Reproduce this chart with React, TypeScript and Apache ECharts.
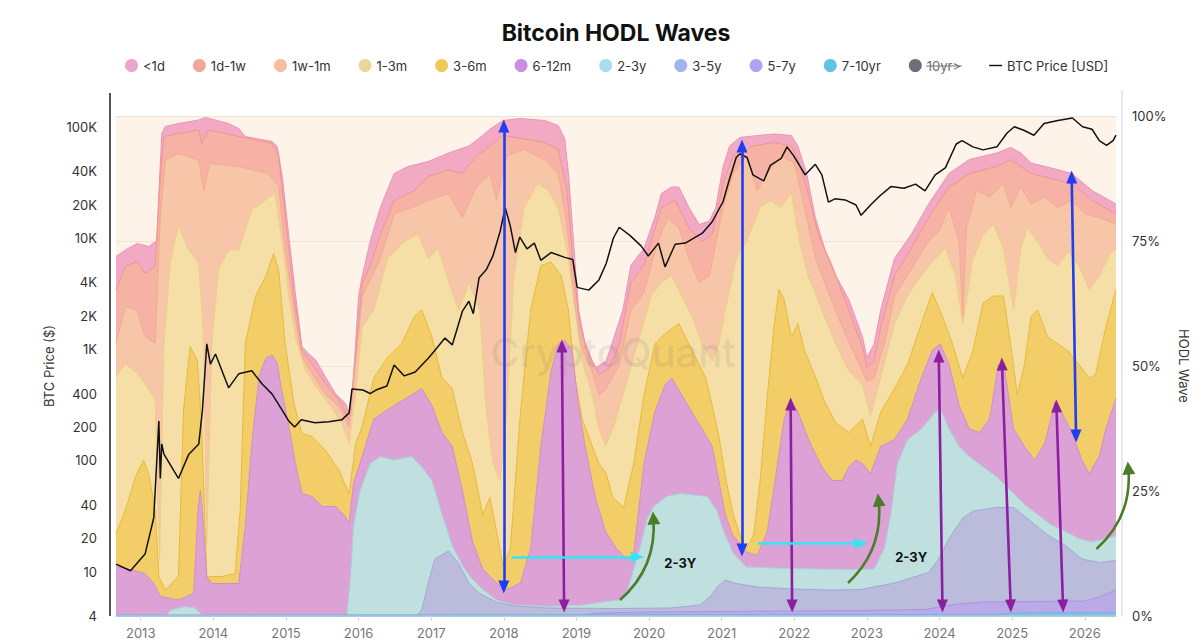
import React, { useEffect, useRef } from "react";
import * as echarts from "echarts";

// ---------------- DATA ----------------
// x values are decimal years; HODL values are the cumulative share (%) of supply
// at the top edge of each band (bands are stacked oldest at the bottom).
const YEAR_TICKS = [2013, 2014, 2015, 2016, 2017, 2018, 2019, 2020, 2021, 2022, 2023, 2024, 2025, 2026];
const PRICE_TICKS = [4, 10, 20, 40, 100, 200, 400, 1000, 2000, 4000, 10000, 20000, 40000, 100000];
const X_MIN = 2012.66;
const X_MAX = 2026.43;

const cumLt1d = [
  [2012.66, 71.9], [2012.79, 73.2], [2012.95, 74.5], [2013.11, 73.9], [2013.22, 75.0], [2013.29, 96.5], [2013.34, 97.9],
  [2013.52, 98.5], [2013.8, 99.2], [2013.89, 99.7], [2014.21, 98.5], [2014.35, 97.5], [2014.44, 95.9], [2014.81, 94.9],
  [2014.88, 93.9], [2014.95, 87.9], [2015.04, 75.9], [2015.13, 64.5], [2015.22, 53.9], [2015.31, 52.5], [2015.41, 51.2],
  [2015.54, 47.9], [2015.68, 44.5], [2015.82, 42.5], [2015.89, 39.9], [2015.93, 47.9], [2016.0, 63.9], [2016.05, 67.9],
  [2016.16, 74.9], [2016.3, 81.7], [2016.49, 88.5], [2016.68, 89.9], [2016.96, 90.9], [2017.24, 92.6], [2017.52, 94.0],
  [2017.71, 96.1], [2017.81, 97.4], [2017.99, 99.1], [2018.23, 99.5], [2018.56, 99.1], [2018.75, 98.1], [2018.84, 95.4],
  [2018.89, 88.5], [2018.96, 74.9], [2019.03, 61.2], [2019.12, 54.4], [2019.26, 49.6], [2019.41, 51.0], [2019.52, 55.8],
  [2019.64, 61.2], [2019.75, 70.1], [2019.93, 73.5], [2020.08, 79.7], [2020.17, 84.5], [2020.31, 85.8], [2020.41, 85.8],
  [2020.55, 81.7], [2020.69, 78.3], [2020.83, 79.0], [2020.92, 81.7], [2021.02, 89.9], [2021.11, 94.0], [2021.25, 95.7],
  [2021.49, 96.1], [2021.72, 96.4], [2021.96, 96.1], [2022.05, 94.0], [2022.17, 88.5], [2022.29, 79.7], [2022.43, 72.8],
  [2022.57, 68.1], [2022.75, 63.3], [2022.94, 55.8], [2023.0, 51.7], [2023.1, 54.4], [2023.19, 61.2], [2023.38, 71.5],
  [2023.61, 76.3], [2023.85, 82.4], [2024.13, 88.5], [2024.41, 91.3], [2024.79, 92.6], [2024.98, 93.7], [2025.12, 92.6],
  [2025.26, 90.6], [2025.54, 89.6], [2025.82, 88.5], [2026.1, 85.1], [2026.43, 82.4],
];

const cum1d1w = [
  [2012.66, 65.2], [2012.79, 69.9], [2012.95, 70.9], [2013.06, 68.5], [2013.2, 69.9], [2013.27, 87.9], [2013.32, 95.9],
  [2013.52, 96.5], [2013.8, 97.2], [2013.84, 94.5], [2013.94, 97.2], [2014.35, 95.9], [2014.81, 94.5], [2014.9, 91.9],
  [2014.99, 79.9], [2015.11, 63.9], [2015.22, 53.2], [2015.36, 50.5], [2015.54, 46.5], [2015.73, 43.2], [2015.87, 39.2],
  [2015.96, 51.9], [2016.05, 66.5], [2016.16, 70.1], [2016.3, 76.3], [2016.49, 83.1], [2016.77, 85.1], [2016.96, 87.9],
  [2017.24, 89.2], [2017.43, 88.5], [2017.62, 92.0], [2017.81, 94.0], [2017.99, 96.1], [2018.28, 95.4], [2018.56, 94.7],
  [2018.75, 93.3], [2018.87, 85.1], [2018.96, 69.4], [2019.05, 57.8], [2019.17, 52.4], [2019.31, 48.3], [2019.45, 49.6],
  [2019.59, 54.4], [2019.75, 66.7], [2019.93, 70.1], [2020.17, 81.7], [2020.36, 83.1], [2020.55, 77.6], [2020.73, 74.9],
  [2020.87, 76.3], [2021.02, 86.5], [2021.16, 92.0], [2021.44, 94.0], [2021.72, 94.7], [2021.96, 94.0], [2022.07, 90.6],
  [2022.19, 84.5], [2022.33, 76.3], [2022.52, 70.1], [2022.75, 61.2], [2022.94, 53.7], [2023.0, 49.8], [2023.1, 51.0],
  [2023.19, 57.8], [2023.38, 68.1], [2023.61, 73.5], [2023.85, 79.7], [2024.13, 85.8], [2024.41, 88.5], [2024.79, 89.9],
  [2024.98, 91.3], [2025.26, 88.5], [2025.54, 87.5], [2025.82, 86.5], [2026.1, 83.1], [2026.43, 80.4],
];

const cum1w1m = [
  [2012.66, 54.5], [2012.79, 61.9], [2012.95, 61.2], [2013.06, 55.9], [2013.2, 54.5], [2013.27, 80.0], [2013.34, 91.2],
  [2013.52, 92.5], [2013.8, 91.2], [2013.87, 85.0], [2013.95, 90.5], [2014.35, 89.9], [2014.76, 88.5], [2014.9, 85.9],
  [2014.99, 73.2], [2015.11, 61.2], [2015.22, 51.9], [2015.36, 48.5], [2015.54, 44.5], [2015.73, 41.9], [2015.87, 37.9],
  [2015.96, 50.5], [2016.05, 63.9], [2016.3, 71.5], [2016.49, 80.4], [2016.73, 81.7], [2016.96, 83.1], [2017.24, 84.5],
  [2017.43, 79.7], [2017.62, 85.8], [2017.81, 88.5], [2017.9, 83.1], [2018.04, 92.0], [2018.28, 93.3], [2018.56, 91.3],
  [2018.75, 88.5], [2018.87, 78.3], [2018.96, 64.7], [2019.05, 54.4], [2019.22, 48.9], [2019.31, 44.2], [2019.41, 45.5],
  [2019.59, 50.3], [2019.75, 61.2], [2019.93, 64.7], [2020.12, 74.9], [2020.26, 79.7], [2020.41, 77.6], [2020.55, 71.5],
  [2020.69, 66.7], [2020.83, 68.1], [2021.02, 81.7], [2021.16, 88.5], [2021.34, 92.0], [2021.49, 85.1], [2021.63, 88.5],
  [2021.81, 92.0], [2022.0, 90.6], [2022.14, 81.7], [2022.29, 71.5], [2022.47, 64.7], [2022.66, 57.8], [2022.85, 51.7],
  [2023.0, 47.0], [2023.1, 47.6], [2023.24, 54.4], [2023.38, 64.0], [2023.61, 69.4], [2023.85, 74.9], [2023.99, 76.9],
  [2024.13, 81.7], [2024.27, 74.9], [2024.32, 59.9], [2024.37, 77.6], [2024.51, 85.1], [2024.69, 83.8], [2024.88, 86.5],
  [2024.98, 81.7], [2025.12, 85.8], [2025.26, 82.4], [2025.45, 83.8], [2025.63, 81.7], [2025.82, 83.1], [2026.01, 80.4],
  [2026.2, 79.7], [2026.43, 78.3],
];

const cum1m3m = [
  [2012.66, 47.9], [2012.79, 50.5], [2012.95, 48.5], [2013.06, 46.5], [2013.2, 43.2], [2013.26, 11.2], [2013.32, 54.5],
  [2013.41, 71.2], [2013.52, 77.9], [2013.66, 73.2], [2013.8, 70.5], [2013.87, 54.5], [2013.91, 14.5], [2013.98, 54.5],
  [2014.07, 69.2], [2014.21, 73.2], [2014.35, 73.2], [2014.53, 81.2], [2014.72, 83.2], [2014.85, 84.5], [2014.95, 74.5],
  [2015.04, 63.9], [2015.13, 55.9], [2015.27, 49.2], [2015.41, 45.9], [2015.59, 42.5], [2015.77, 38.5], [2015.87, 34.5],
  [2015.96, 44.5], [2016.05, 57.9], [2016.21, 61.2], [2016.4, 71.5], [2016.63, 74.9], [2016.82, 76.3], [2016.96, 71.5],
  [2017.1, 73.5], [2017.24, 66.7], [2017.38, 61.2], [2017.52, 66.7], [2017.67, 61.2], [2017.76, 40.8], [2017.85, 30.5],
  [2017.95, 27.1], [2018.04, 40.8], [2018.14, 68.1], [2018.28, 81.7], [2018.47, 86.5], [2018.61, 85.1], [2018.75, 81.7],
  [2018.89, 71.5], [2018.98, 61.2], [2019.08, 51.0], [2019.22, 44.2], [2019.31, 37.4], [2019.4, 34.0], [2019.5, 37.4],
  [2019.64, 44.2], [2019.84, 54.4], [2020.03, 64.0], [2020.17, 66.7], [2020.31, 68.1], [2020.45, 64.0], [2020.59, 59.9],
  [2020.73, 54.4], [2020.87, 51.0], [2020.96, 54.4], [2021.05, 61.2], [2021.2, 71.5], [2021.34, 74.9], [2021.53, 81.7],
  [2021.67, 83.1], [2021.81, 81.7], [2021.96, 84.5], [2022.07, 74.9], [2022.19, 68.1], [2022.38, 61.2], [2022.57, 54.4],
  [2022.75, 49.0], [2022.94, 46.2], [2023.05, 40.0], [2023.19, 47.6], [2023.38, 58.5], [2023.56, 64.0], [2023.75, 68.1],
  [2023.94, 71.5], [2024.08, 73.5], [2024.22, 68.1], [2024.32, 58.5], [2024.46, 71.5], [2024.6, 76.3], [2024.74, 78.3],
  [2024.88, 73.5], [2025.02, 61.2], [2025.12, 73.5], [2025.21, 77.6], [2025.35, 74.9], [2025.49, 71.5], [2025.63, 70.0],
  [2025.77, 72.8], [2025.92, 70.1], [2026.06, 65.3], [2026.2, 68.1], [2026.34, 72.2], [2026.43, 73.5],
];

const cum3m6m = [
  [2012.66, 16.5], [2012.79, 21.2], [2012.93, 27.9], [2013.04, 31.2], [2013.11, 28.5], [2013.2, 21.2], [2013.25, 7.9],
  [2013.34, 5.2], [2013.52, 7.9], [2013.59, 41.2], [2013.68, 53.9], [2013.78, 51.2], [2013.84, 37.9], [2013.91, 7.9],
  [2013.98, 7.9], [2014.12, 7.9], [2014.3, 8.5], [2014.37, 21.2], [2014.44, 54.5], [2014.58, 63.9], [2014.72, 67.9],
  [2014.83, 72.5], [2014.9, 69.2], [2014.99, 54.5], [2015.11, 42.5], [2015.22, 36.5], [2015.36, 35.9], [2015.54, 33.2],
  [2015.73, 29.2], [2015.87, 24.5], [2015.96, 34.5], [2016.05, 37.9], [2016.21, 47.6], [2016.4, 51.7], [2016.59, 54.4],
  [2016.77, 59.9], [2016.87, 61.2], [2017.01, 55.8], [2017.15, 47.6], [2017.29, 45.5], [2017.43, 36.7], [2017.57, 30.5],
  [2017.71, 20.3], [2017.81, 23.7], [2017.9, 16.9], [2017.99, 10.0], [2018.09, 13.5], [2018.23, 40.8], [2018.37, 61.2],
  [2018.51, 70.1], [2018.65, 70.8], [2018.79, 68.1], [2018.89, 61.2], [2018.98, 47.6], [2019.08, 39.4], [2019.22, 33.9],
  [2019.31, 30.5], [2019.41, 28.5], [2019.5, 23.7], [2019.65, 21.7], [2019.79, 30.5], [2019.93, 44.2], [2020.08, 54.4],
  [2020.22, 56.5], [2020.41, 58.5], [2020.5, 55.8], [2020.64, 51.7], [2020.78, 47.6], [2020.87, 42.1], [2020.97, 35.3],
  [2021.06, 27.1], [2021.16, 20.3], [2021.25, 16.2], [2021.34, 13.5], [2021.44, 16.2], [2021.53, 27.1], [2021.63, 44.2],
  [2021.72, 57.8], [2021.79, 65.3], [2021.86, 63.3], [2021.96, 55.8], [2022.05, 58.5], [2022.14, 53.1], [2022.28, 48.3],
  [2022.42, 42.8], [2022.57, 38.7], [2022.75, 36.7], [2022.94, 39.4], [2023.05, 33.9], [2023.19, 40.8], [2023.38, 45.5],
  [2023.56, 50.3], [2023.75, 58.5], [2023.9, 64.7], [2024.04, 59.9], [2024.18, 54.4], [2024.32, 47.6], [2024.46, 53.1],
  [2024.6, 62.6], [2024.74, 64.0], [2024.88, 64.0], [2024.98, 54.4], [2025.07, 44.2], [2025.17, 50.3], [2025.26, 59.9],
  [2025.35, 61.2], [2025.49, 55.8], [2025.63, 54.4], [2025.77, 53.0], [2025.92, 50.3], [2026.06, 47.6], [2026.15, 48.3],
  [2026.29, 57.8], [2026.43, 65.3],
];

const cum6m12m = [
  [2012.66, 9.9], [2012.88, 9.2], [2013.06, 8.5], [2013.18, 6.5], [2013.27, 3.9], [2013.52, 3.2], [2013.73, 4.5],
  [2013.79, 21.2], [2013.82, 25.2], [2013.85, 21.2], [2013.91, 7.9], [2013.98, 6.5], [2014.35, 6.5], [2014.44, 17.9],
  [2014.53, 34.5], [2014.63, 47.9], [2014.72, 51.5], [2014.81, 52.2], [2014.88, 50.5], [2014.95, 44.5], [2015.04, 37.9],
  [2015.13, 30.5], [2015.22, 24.5], [2015.36, 23.9], [2015.5, 21.9], [2015.68, 21.9], [2015.82, 19.9], [2015.87, 18.5],
  [2015.93, 26.5], [2016.05, 31.9], [2016.21, 39.4], [2016.49, 42.1], [2016.73, 44.2], [2016.87, 45.5], [2017.01, 42.1],
  [2017.15, 36.7], [2017.29, 33.9], [2017.43, 25.1], [2017.57, 14.8], [2017.71, 9.4], [2017.9, 6.6], [2018.04, 5.3],
  [2018.23, 6.6], [2018.37, 13.5], [2018.51, 33.9], [2018.65, 48.9], [2018.75, 54.4], [2018.84, 55.1], [2018.94, 53.1],
  [2019.03, 42.0], [2019.12, 33.9], [2019.26, 23.7], [2019.4, 16.9], [2019.55, 13.5], [2019.69, 11.4], [2019.79, 12.5],
  [2019.93, 30.5], [2020.08, 40.8], [2020.22, 46.2], [2020.31, 47.6], [2020.45, 44.2], [2020.59, 40.8], [2020.73, 37.4],
  [2020.87, 33.9], [2020.96, 27.1], [2021.05, 20.3], [2021.15, 16.2], [2021.34, 12.8], [2021.49, 12.1], [2021.63, 16.9],
  [2021.77, 30.5], [2021.86, 39.4], [2021.96, 43.0], [2022.05, 40.8], [2022.14, 37.4], [2022.24, 33.9], [2022.38, 29.8],
  [2022.52, 27.1], [2022.66, 27.1], [2022.75, 29.8], [2022.85, 31.2], [2022.94, 30.5], [2023.05, 28.5], [2023.19, 33.9],
  [2023.38, 35.3], [2023.56, 39.4], [2023.75, 47.6], [2023.9, 53.1], [2024.01, 54.4], [2024.13, 50.3], [2024.27, 42.1],
  [2024.41, 37.4], [2024.55, 36.7], [2024.69, 39.4], [2024.81, 50.3], [2024.9, 48.9], [2025.02, 37.4], [2025.17, 33.9],
  [2025.31, 31.2], [2025.45, 34.6], [2025.59, 42.8], [2025.68, 40.8], [2025.82, 36.7], [2025.96, 31.2], [2026.06, 28.5],
  [2026.2, 31.9], [2026.29, 37.4], [2026.43, 43.5],
];

const cum2y3y = [
  [2012.66, 0], [2013.35, 0], [2013.42, 1.2], [2013.6, 1.9], [2013.75, 1.6], [2013.84, 0.3], [2013.9, 0], [2015.84, 0],
  [2015.89, 7.9], [2015.93, 17.9], [2016.02, 25.0], [2016.16, 30.5], [2016.3, 31.9], [2016.49, 31.2], [2016.73, 31.9],
  [2016.87, 29.8], [2017.01, 27.1], [2017.15, 20.3], [2017.29, 14.1], [2017.43, 10.1], [2017.57, 7.3], [2017.71, 5.3],
  [2017.9, 3.2], [2018.14, 2.2], [2018.61, 1.9], [2019.08, 2.2], [2019.41, 2.9], [2019.6, 3.2], [2019.69, 4.5],
  [2019.88, 13.9], [2019.97, 19.2], [2020.06, 21.9], [2020.24, 23.9], [2020.43, 24.5], [2020.8, 23.9], [2020.93, 21.2],
  [2021.02, 17.2], [2021.16, 12.5], [2021.34, 9.8], [2021.94, 9.5], [2022.77, 9.3], [2023.1, 9.4], [2023.24, 13.5],
  [2023.33, 20.3], [2023.42, 30.5], [2023.56, 35.3], [2023.75, 37.4], [2023.94, 40.8], [2024.01, 41.4], [2024.13, 37.4],
  [2024.27, 33.9], [2024.41, 31.9], [2024.6, 29.8], [2024.79, 27.8], [2024.98, 25.1], [2025.17, 22.3], [2025.35, 20.3],
  [2025.54, 18.2], [2025.73, 16.9], [2025.92, 15.5], [2026.1, 14.8], [2026.29, 15.5], [2026.43, 16.0],
];

const cum3y5y = [
  [2012.66, 0], [2016.8, 0], [2016.87, 1.2], [2016.96, 6.6], [2017.05, 11.4], [2017.24, 13.0], [2017.38, 10.5],
  [2017.52, 6.5], [2017.67, 4.5], [2017.9, 2.8], [2018.14, 2.0], [2018.6, 1.6], [2019.5, 1.5], [2020.3, 1.6],
  [2020.7, 2.2], [2020.85, 4.0], [2020.95, 6.0], [2021.05, 7.2], [2021.2, 6.5], [2021.5, 5.8], [2022.0, 5.4],
  [2022.5, 5.2], [2022.91, 5.3], [2023.38, 6.6], [2023.85, 8.7], [2023.99, 11.4], [2024.13, 15.5], [2024.32, 19.6],
  [2024.46, 21.0], [2024.79, 21.7], [2025.02, 21.7], [2025.26, 18.9], [2025.49, 16.2], [2025.73, 14.1], [2025.96, 11.4],
  [2026.2, 10.7], [2026.43, 11.1],
];

const cum5y7y = [
  [2012.66, 0], [2019.0, 0], [2019.3, 0.6], [2020.0, 0.8], [2021.0, 0.9], [2022.0, 1.0], [2023.0, 1.1], [2023.8, 1.3],
  [2024.2, 2.3], [2024.6, 2.8], [2025.5, 2.9], [2026.0, 3.0], [2026.2, 3.8], [2026.43, 5.2],
];

const cum7y10y = [[2012.66, 0.2], [2024.8, 0.3], [2025.0, 0.6], [2026.43, 0.7]];

// BTC price in USD
const btcPrice = [
  [2012.66, 11.7], [2012.86, 10.2], [2013.06, 14.4], [2013.18, 30.6], [2013.25, 226], [2013.27, 69], [2013.29, 141],
  [2013.32, 114], [2013.52, 69], [2013.66, 113], [2013.8, 141], [2013.85, 282], [2013.91, 1120], [2013.96, 734],
  [2014.03, 906], [2014.21, 450], [2014.35, 601], [2014.53, 640], [2014.67, 490], [2014.81, 395], [2014.95, 282],
  [2015.04, 226], [2015.12, 200], [2015.21, 232], [2015.4, 218], [2015.59, 223], [2015.77, 232], [2015.87, 268],
  [2015.91, 440], [2016.06, 430], [2016.16, 400], [2016.24, 430], [2016.39, 468], [2016.49, 723], [2016.63, 576],
  [2016.78, 625], [2016.96, 829], [2017.03, 940], [2017.19, 1260], [2017.29, 1094], [2017.43, 2200], [2017.52, 2700],
  [2017.58, 2090], [2017.66, 4400], [2017.76, 5200], [2017.85, 6900], [2017.95, 11500], [2018.02, 18700],
  [2018.09, 12800], [2018.16, 7400], [2018.22, 10200], [2018.32, 8000], [2018.42, 9000], [2018.51, 6300],
  [2018.65, 7400], [2018.84, 6700], [2018.95, 6400], [2019.01, 3600], [2019.17, 3400], [2019.31, 4200], [2019.41, 5900],
  [2019.51, 10000], [2019.59, 12500], [2019.74, 10500], [2019.89, 8500], [2019.99, 6900], [2020.13, 9000],
  [2020.22, 5500], [2020.36, 8800], [2020.5, 9000], [2020.64, 10200], [2020.73, 11000], [2020.87, 14000],
  [2021.02, 21300], [2021.1, 32600], [2021.2, 53000], [2021.25, 57000], [2021.35, 53000], [2021.43, 37000],
  [2021.58, 32600], [2021.67, 45000], [2021.82, 52000], [2021.9, 66000], [2021.99, 55000], [2022.15, 37000],
  [2022.29, 46000], [2022.38, 37000], [2022.47, 21000], [2022.56, 22500], [2022.7, 22000], [2022.85, 19800],
  [2022.92, 16000], [2023.05, 19800], [2023.18, 24000], [2023.33, 29000], [2023.51, 28000], [2023.67, 30500],
  [2023.8, 26500], [2023.94, 37000], [2024.08, 42700], [2024.23, 70000], [2024.31, 75000], [2024.46, 66000],
  [2024.6, 62000], [2024.79, 66000], [2024.93, 88000], [2025.03, 100000], [2025.16, 93000], [2025.3, 84000],
  [2025.44, 107000], [2025.63, 114000], [2025.83, 120000], [2025.97, 100000], [2026.1, 95000], [2026.2, 75000],
  [2026.3, 68000], [2026.39, 75000], [2026.43, 84000],
];

// Annotations, in data coordinates [x1, pct1, x2, pct2]
const BLUE_ARROWS = [
  [2018.0, 98.0, 2018.0, 5.8],
  [2021.28, 94.0, 2021.28, 13.2],
  [2025.82, 87.8, 2025.88, 36.0],
];
const PURPLE_ARROWS = [
  [2018.8, 54.0, 2018.83, 2.0],
  [2021.95, 42.4, 2021.97, 2.0],
  [2023.99, 52.0, 2024.04, 2.0],
  [2024.86, 50.4, 2024.98, 2.0],
  [2025.61, 42.0, 2025.7, 2.0],
  [2026.4, 42.8, 2026.46, 2.0],
];
const CYAN_ARROWS = [
  [2018.11, 11.8, 2019.84, 11.8],
  [2021.5, 14.5, 2022.92, 14.5],
];
const GREEN_ARROWS = [
  [2019.6, 3.2, 2020.06, 19.6],
  [2022.74, 6.6, 2023.16, 23.2],
  [2026.16, 13.4, 2026.6, 29.6],
];
const LABEL_23Y = [[2020.43, 10.6], [2023.61, 11.8]];

// ---------------- STYLE ----------------
const FONT = "Inter, 'Noto Sans', 'DejaVu Sans', sans-serif";
const BANDS = [
  { name: "<1d", legend: "#eea5cc", fill: "#f2a9c4", edge: "#ec93b4" },
  { name: "1d-1w", legend: "#f2a69c", fill: "#f5b2a5", edge: "#ef978c" },
  { name: "1w-1m", legend: "#f5bf9b", fill: "#f7c5a7", edge: "#f1ad8a" },
  { name: "1-3m", legend: "#ead89a", fill: "#f5dfa6", edge: "#eccf86" },
  { name: "3-6m", legend: "#efc95a", fill: "#f3cd68", edge: "#e6bb3c" },
  { name: "6-12m", legend: "#cc8ee0", fill: "#dca2d6", edge: "#d08fcb" },
  { name: "2-3y", legend: "#a8dcee", fill: "#c0dfdf", edge: "#a9d2d6" },
  { name: "3-5y", legend: "#9fb5ec", fill: "#bbbbdc", edge: "#a2a8d6" },
  { name: "5-7y", legend: "#b0a3f3", fill: "#bba9e8", edge: "#a995e0" },
  { name: "7-10yr", legend: "#5ec3e6", fill: "#7fc3e3", edge: "#6db6de" },
];
const BAND_DATA = [cumLt1d, cum1d1w, cum1w1m, cum1m3m, cum3m6m, cum6m12m, cum2y3y, cum3y5y, cum5y7y, cum7y10y];

function arrowSeries(id: string, lines: number[][], color: string, symbol: string[]) {
  return {
    type: "line",
    name: id,
    yAxisIndex: 1,
    data: [],
    silent: true,
    clip: false,
    z: 6,
    markLine: {
      silent: true,
      animation: false,
      symbol,
      symbolSize: [11, 13],
      label: { show: false },
      emphasis: { disabled: true },
      lineStyle: { color, width: 2.6, type: "solid", opacity: 1 },
      data: lines.map(([x1, y1, x2, y2]) => [{ coord: [x1, y1] }, { coord: [x2, y2] }]),
    },
  };
}

function buildOption() {
  const bandSeries = BANDS.map((b, i) => ({
    name: b.name,
    type: "line",
    yAxisIndex: 1,
    data: BAND_DATA[i],
    showSymbol: false,
    symbol: "none",
    silent: true,
    z: 2,
    lineStyle: { width: 1, color: b.edge },
    itemStyle: { color: b.legend },
    areaStyle: { color: b.fill, opacity: 1 },
    emphasis: { disabled: true },
  }));

  return {
    animation: false,
    backgroundColor: "#ffffff",
    textStyle: { fontFamily: FONT },
    title: {
      text: "Bitcoin HODL Waves",
      left: 616,
      textAlign: "center",
      top: 21,
      padding: 0,
      textStyle: { fontSize: 23, fontWeight: "bold", color: "#111", fontFamily: FONT },
    },
    legend: {
      top: 54,
      left: 120,
      itemWidth: 13,
      itemHeight: 13,
      itemGap: 28,
      textStyle: { fontSize: 13, color: "#333", fontFamily: FONT },
      inactiveColor: "#6e6e78",
      selected: { "10yr>": false },
      data: [
        ...BANDS.map((b) => ({ name: b.name, icon: "circle", itemStyle: { color: b.legend, borderWidth: 0 } })),
        { name: "10yr>", icon: "circle", itemStyle: { color: "#5e5e6a", borderWidth: 0 } },
        { name: "BTC Price [USD]", icon: "path://M0,0H20V2.2H0Z", itemStyle: { color: "#111", borderWidth: 0 } },
      ],
    },
    grid: { left: 116, right: 84, top: 116, bottom: 24, show: true, backgroundColor: "#fdf3e8", borderWidth: 0 },
    xAxis: {
      type: "value",
      min: X_MIN,
      max: X_MAX,
      z: 3,
      axisLine: { show: true, lineStyle: { color: "#a7c5e4", width: 1.5 } },
      axisTick: { show: true, customValues: YEAR_TICKS, length: 5, lineStyle: { color: "#d8d8d8" } },
      axisLabel: {
        customValues: YEAR_TICKS,
        formatter: (v: number) => String(Math.round(v)),
        color: "#777",
        fontSize: 13,
        margin: 10,
      },
      splitLine: { show: false },
    },
    yAxis: [
      {
        type: "log",
        min: 4,
        max: 125000,
        position: "left",
        axisLine: { show: false },
        axisTick: { show: false },
        splitLine: { show: false },
        axisLabel: {
          customValues: PRICE_TICKS,
          formatter: (v: number) => (v >= 1000 ? `${Math.round(v / 1000)}K` : String(Math.round(v))),
          color: "#333",
          fontSize: 13,
          margin: 19,
        },
        name: "BTC Price ($)",
        nameLocation: "middle",
        nameGap: 58,
        nameTextStyle: { color: "#333", fontSize: 13 },
      },
      {
        type: "value",
        min: 0,
        max: 100,
        interval: 25,
        position: "right",
        axisLine: { show: false },
        axisTick: { show: false },
        splitLine: { show: true, lineStyle: { color: "#efe3d6", width: 1 } },
        axisLabel: { formatter: "{value}%", color: "#333", fontSize: 13, margin: 16 },
        name: "HODL Wave",
        nameLocation: "middle",
        nameRotate: -90,
        nameGap: 58,
        nameTextStyle: { color: "#333", fontSize: 13 },
      },
    ],
    graphic: [
      { type: "line", silent: true, shape: { x1: 110, y1: 93, x2: 110, y2: 616 }, style: { stroke: "#555", lineWidth: 2 } },
      { type: "line", silent: true, shape: { x1: 1122, y1: 90, x2: 1122, y2: 616 }, style: { stroke: "#e2e2e2", lineWidth: 1.5 } },
      {
        type: "text",
        silent: true,
        z: 3,
        x: 613,
        y: 352,
        style: { text: "CryptoQuant", font: `500 40px ${FONT}`, fill: "rgba(110,110,110,0.13)", align: "center", verticalAlign: "middle" },
      },
      { type: "line", silent: true, z: 10, shape: { x1: 926, y1: 66, x2: 962, y2: 66 }, style: { stroke: "#777", lineWidth: 1 } },
    ],
    series: [
      ...bandSeries,
      { name: "10yr>", type: "line", yAxisIndex: 1, data: [], itemStyle: { color: "#5e5e6a" }, showSymbol: false },
      {
        name: "BTC Price [USD]",
        type: "line",
        yAxisIndex: 0,
        data: btcPrice,
        showSymbol: false,
        symbol: "none",
        silent: true,
        z: 4,
        lineStyle: { color: "#111", width: 1.5 },
        itemStyle: { color: "#111" },
      },
      arrowSeries("blueArrows", BLUE_ARROWS, "#1e3ef0", ["triangle", "triangle"]),
      arrowSeries("purpleArrows", PURPLE_ARROWS, "#8c1ea0", ["triangle", "triangle"]),
      arrowSeries("cyanArrows", CYAN_ARROWS, "#33e6f5", ["none", "triangle"]),
      {
        type: "lines",
        name: "greenArrows",
        coordinateSystem: "cartesian2d",
        xAxisIndex: 0,
        yAxisIndex: 1,
        silent: true,
        clip: false,
        z: 6,
        symbol: ["none", "triangle"],
        symbolSize: [11, 13],
        lineStyle: { color: "#4b7d28", width: 2.6, curveness: -0.25, opacity: 1 },
        data: GREEN_ARROWS.map(([x1, y1, x2, y2]) => ({ coords: [[x1, y1], [x2, y2]] })),
      },
      {
        type: "line",
        name: "labels",
        yAxisIndex: 1,
        data: [],
        silent: true,
        z: 7,
        markPoint: {
          silent: true,
          symbol: "rect",
          symbolSize: 1,
          itemStyle: { color: "rgba(0,0,0,0)" },
          label: { show: true, position: "inside", formatter: "2-3Y", fontSize: 13, fontWeight: "bold", color: "#111", fontFamily: FONT },
          data: LABEL_23Y.map((c) => ({ coord: c })),
        },
      },
    ],
  };
}

export default function App() {
  const ref = useRef<HTMLDivElement>(null);
  useEffect(() => {
    if (!ref.current) return;
    const chart = echarts.init(ref.current, undefined, { renderer: "svg" });
    chart.setOption(buildOption() as any);
    return () => chart.dispose();
  }, []);
  return (
    <div
      ref={ref}
      style={{ position: "fixed", left: 0, top: 0, width: 1200, height: 640, background: "#fff" }}
    />
  );
}
